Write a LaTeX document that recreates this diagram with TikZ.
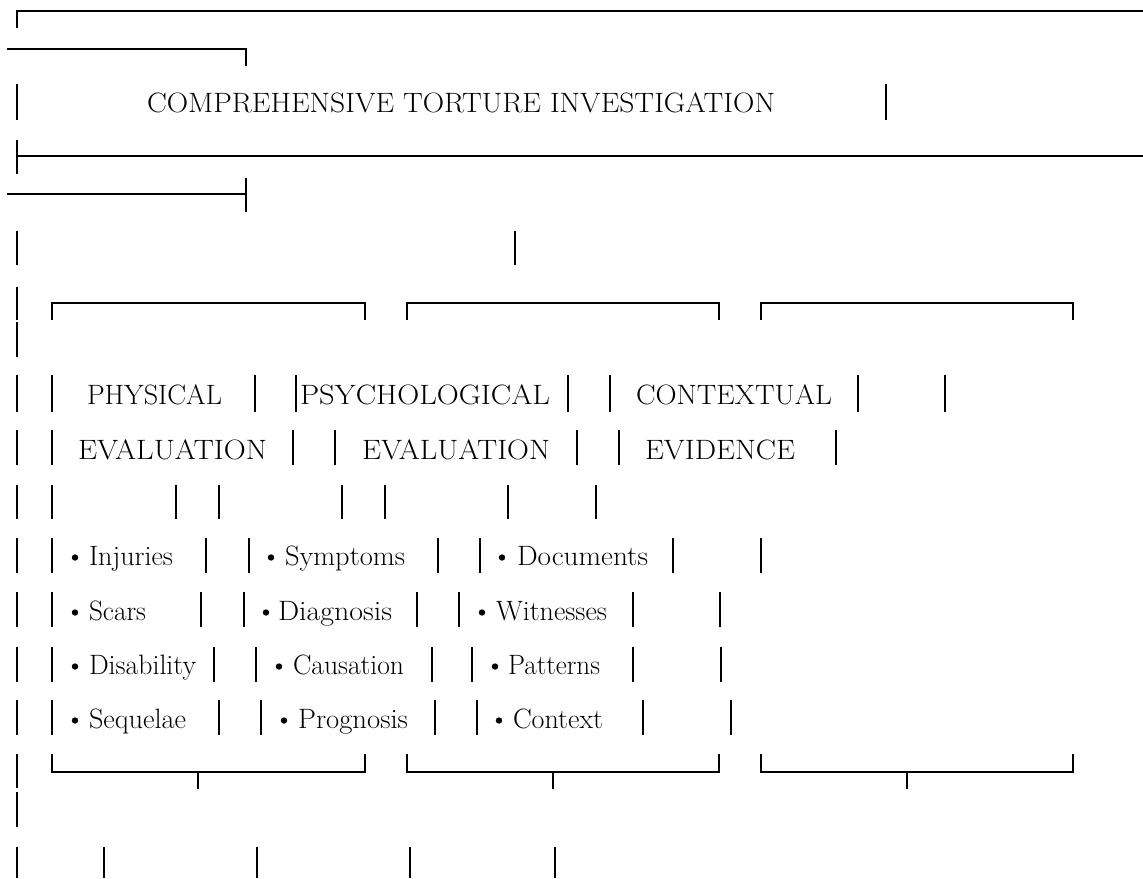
\documentclass[tikz,border=0pt]{standalone}
\usepackage{graphicx}
\tikzset{
  bar/.style={line width=2pt, line cap=butt, black},
  rule/.style={line width=2pt, line cap=butt, black},
  txt/.style={anchor=base west, inner sep=0pt, outer sep=0pt, font=\fontsize{28}{32}\selectfont}
}
\newcommand{\fitt}[2]{\resizebox{#1pt}{\height}{#2}}
\newcommand{\dotat}[2]{\fill[black] (#1,#2-7.5) circle[radius=3.2pt];}
\begin{document}
\begin{tikzpicture}[x=1pt,y=-1pt]
\useasboundingbox (0,0) rectangle (1143,878);
% top frame
\draw[rule] (17,28) -- (17,11) -- (1143,11);
\draw[rule] (7,49) -- (246,49) -- (246,66);
\draw[bar] (17,84) -- (17,120);
\draw[bar] (886,84) -- (886,120);
\node[txt] (title) at (147,112) {\fitt{628}{COMPREHENSIVE TORTURE INVESTIGATION}};
\draw[bar] (17,140) -- (17,174);
\draw[rule] (17,156) -- (1143,156);
\draw[rule] (7,194) -- (246,194);
\draw[bar] (246,178) -- (246,212);
\foreach \x in {17,515} \draw[bar] (\x,231) -- (\x,265);
\draw[bar] (17,287) -- (17,320);
\draw[bar] (17,322) -- (17,357);
% box tops
\foreach \a/\b in {52/365,407/719,761/1073}
  \draw[rule] (\a,320) -- (\a,303) -- (\b,303) -- (\b,320);
% row PHYSICAL
\foreach \x in {17,52,255,296,568,610,858,945} \draw[bar] (\x,375) -- (\x,412);
\node[txt] (phys) at (87,404) {\fitt{135}{PHYSICAL}};
\node[txt] (psych) at (300,404) {\fitt{250}{PSYCHOLOGICAL}};
\node[txt] (cont) at (636,404) {\fitt{196}{CONTEXTUAL}};
% row EVALUATION
\foreach \x in {17,52,293,335,577,619,836} \draw[bar] (\x,430) -- (\x,465);
\node[txt] (eval1) at (78,459) {\fitt{189}{EVALUATION}};
\node[txt] (eval2) at (362,459) {\fitt{188}{EVALUATION}};
\node[txt] (evid) at (645,459) {\fitt{150}{EVIDENCE}};
% blank row
\foreach \x in {17,52,176,219,342,385,508,596} \draw[bar] (\x,485) -- (\x,519);
% items
\foreach \x in {17,52,206,249,438,480,673,761} \draw[bar] (\x,538) -- (\x,573);
\dotat{75}{565} \node[txt] (inj) at (89,565) {\fitt{84}{Injuries}};
\dotat{271}{565} \node[txt] (sym) at (285,565) {\fitt{120}{Symptoms}};
\dotat{502}{565} \node[txt] (doc) at (517,565) {\fitt{131}{Documents}};
\foreach \x in {17,52,201,244,417,459,633,720} \draw[bar] (\x,592) -- (\x,627);
\dotat{75}{620} \node[txt] (sca) at (89,620) {\fitt{57}{Scars}};
\dotat{266}{620} \node[txt] (dia) at (278,620) {\fitt{114}{Diagnosis}};
\dotat{482}{620} \node[txt] (wit) at (496,620) {\fitt{111}{Witnesses}};
\foreach \x in {17,52,214,256,432,472,633,721} \draw[bar] (\x,647) -- (\x,682);
\dotat{75}{674} \node[txt] (dis) at (89,674) {\fitt{107}{Disability}};
\dotat{279}{674} \node[txt] (cau) at (293,674) {\fitt{111}{Causation}};
\dotat{495}{674} \node[txt] (pat) at (508,674) {\fitt{92}{Patterns}};
\foreach \x in {17,52,219,261,435,477,643,731} \draw[bar] (\x,700) -- (\x,735);
\dotat{75}{728} \node[txt] (seq) at (89,728) {\fitt{97}{Sequelae}};
\dotat{284}{728} \node[txt] (pro) at (298,728) {\fitt{110}{Prognosis}};
\dotat{499}{728} \node[txt] (ctx) at (513,728) {\fitt{90}{Context}};
% box bottoms
\draw[bar] (17,754) -- (17,788);
\draw[bar] (17,792) -- (17,827);
\foreach \a/\b/\m in {52/365/198,407/719/553,761/1073/907}{
  \draw[rule] (\a,754) -- (\a,772) -- (\b,772) -- (\b,754);
  \draw[rule] (\m,772) -- (\m,789);
}
% last row
\foreach \x in {17,104,257,410,555} \draw[bar] (\x,847) -- (\x,878);
\end{tikzpicture}
\end{document}
